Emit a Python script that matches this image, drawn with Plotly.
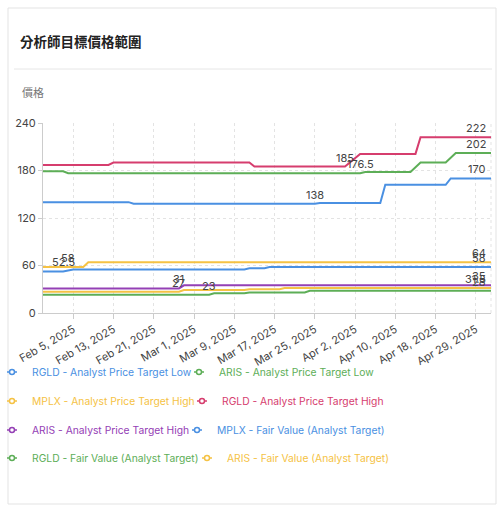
import pandas as pd
import plotly.graph_objects as go

# ---------------- data ----------------
TITLE = "分析師目標價格範圍"
Y_LABEL = "價格"

all_days = pd.date_range("2025-01-30", "2025-05-02", freq="D")
missing_days = ["2025-04-19", "2025-04-20", "2025-04-21"]
categories = [d.strftime("%Y-%m-%d") for d in all_days if d.strftime("%Y-%m-%d") not in missing_days]

tick_dates = ["2025-02-05", "2025-02-13", "2025-02-21", "2025-03-01", "2025-03-09", "2025-03-17",
              "2025-03-25", "2025-04-02", "2025-04-10", "2025-04-18", "2025-04-29"]
tick_labels = ["Feb 5, 2025", "Feb 13, 2025", "Feb 21, 2025", "Mar 1, 2025", "Mar 9, 2025", "Mar 17, 2025",
               "Mar 25, 2025", "Apr 2, 2025", "Apr 10, 2025", "Apr 18, 2025", "Apr 29, 2025"]
y_ticks = [0, 60, 120, 180, 240]

series_names = [
    "RGLD - Analyst Price Target Low",
    "ARIS - Analyst Price Target Low",
    "MPLX - Analyst Price Target High",
    "RGLD - Analyst Price Target High",
    "ARIS - Analyst Price Target High",
    "MPLX - Fair Value (Analyst Target)",
    "RGLD - Fair Value (Analyst Target)",
    "ARIS - Fair Value (Analyst Target)",
]
series_colors = ["#4A90E2", "#5DAE57", "#F5C244", "#D63D6E", "#9440B5", "#4A90E2", "#5DAE57", "#F5C244"]

# step series given at their change points (date, value)
rgld_low_dates = ["2025-01-30", "2025-02-16", "2025-02-17", "2025-03-25", "2025-03-26", "2025-04-07",
                  "2025-04-08", "2025-04-23", "2025-04-24", "2025-05-02"]
rgld_low_values = [140, 140, 138, 138, 139, 139, 162, 162, 170, 170]

aris_low_dates = ["2025-01-30", "2025-03-04", "2025-03-05", "2025-03-11", "2025-03-12", "2025-03-23",
                  "2025-03-24", "2025-05-02"]
aris_low_values = [23, 23, 25, 25, 26, 26, 28, 28]

mplx_high_dates = ["2025-01-30", "2025-02-07", "2025-02-08", "2025-05-02"]
mplx_high_values = [58, 58, 64, 64]

rgld_high_dates = ["2025-01-30", "2025-02-12", "2025-02-13", "2025-03-12", "2025-03-13", "2025-03-31",
                   "2025-04-03", "2025-04-14", "2025-04-15", "2025-05-02"]
rgld_high_values = [187, 187, 190, 190, 185, 185, 201, 201, 222, 222]

aris_high_dates = ["2025-01-30", "2025-02-26", "2025-02-27", "2025-05-02"]
aris_high_values = [31, 31, 35, 35]

mplx_fv_dates = ["2025-01-30", "2025-02-03", "2025-02-05", "2025-03-11", "2025-03-12", "2025-03-15",
                 "2025-03-16", "2025-05-02"]
mplx_fv_values = [52.5, 52.5, 55, 55, 56.5, 56.5, 58, 58]

rgld_fv_dates = ["2025-01-30", "2025-02-03", "2025-02-04", "2025-04-03", "2025-04-04", "2025-04-13",
                 "2025-04-15", "2025-04-23", "2025-04-25", "2025-05-02"]
rgld_fv_values = [179, 179, 176.5, 176.5, 178, 178, 190, 190, 202, 202]

aris_fv_dates = ["2025-01-30", "2025-02-26", "2025-02-27", "2025-03-11", "2025-03-12", "2025-03-18",
                 "2025-03-19", "2025-05-02"]
aris_fv_values = [27, 27, 29, 29, 30, 30, 31.5, 31.5]

series_dates = [rgld_low_dates, aris_low_dates, mplx_high_dates, rgld_high_dates,
                aris_high_dates, mplx_fv_dates, rgld_fv_dates, aris_fv_dates]
series_values = [rgld_low_values, aris_low_values, mplx_high_values, rgld_high_values,
                 aris_high_values, mplx_fv_values, rgld_fv_values, aris_fv_values]

# point labels: (series index, date, value)
label_series = [5, 2, 4, 7, 1, 0, 3, 6, 3, 6, 0, 2, 5, 4, 7, 1]
label_dates = ["2025-02-03", "2025-02-04", "2025-02-26", "2025-02-26", "2025-03-04", "2025-03-25",
               "2025-03-31", "2025-04-03", "2025-05-02", "2025-05-02", "2025-05-02", "2025-05-02",
               "2025-05-02", "2025-05-02", "2025-05-02", "2025-05-02"]
label_values = [52.5, 58, 31, 27, 23, 138, 185, 176.5, 222, 202, 170, 64, 58, 35, 31.5, 28]

# ---------------- layout helpers ----------------
W, H = 504, 512
L, R, T, B = 43, 491, 123, 313


def px_x(px):
    return (px - L) / (R - L)


def px_y(py):
    return (B - py) / (B - T)


FONT = "Inter, Noto Sans, sans-serif"
CJK = "Noto Sans CJK TC, Noto Sans CJK SC, sans-serif"

fig = go.Figure()

# establish the category order on the x axis
fig.add_trace(go.Scatter(x=categories, y=[None] * len(categories), mode="lines",
                         showlegend=False, hoverinfo="skip"))

legend_ids = ["legend", "legend2", "legend3", "legend4", "legend5", "legend6", "legend7", "legend8"]

for i, name in enumerate(series_names):
    c = series_colors[i]
    fig.add_trace(go.Scatter(
        x=series_dates[i], y=series_values[i], mode="lines",
        line=dict(color=c, width=2), name=name, legendgroup=name, showlegend=False,
    ))
    # legend-only entry: short line with a small hollow circle
    fig.add_trace(go.Scatter(
        x=[None], y=[None], mode="lines+markers",
        line=dict(color=c, width=1.5, dash="0px,10px,10px,30px"),
        marker=dict(symbol="circle", size=5, color="white", line=dict(color=c, width=1.5)),
        name=f"<span style='color:{c}'>{name}</span>", legendgroup=name,
        legend=legend_ids[i], showlegend=True,
    ))

# legend item placement (text start x, row centre y) in pixels
legend_text_x = [32, 219, 32, 222, 32, 217, 32, 227]
legend_row_y = [372, 372, 401, 401, 430, 430, 458, 458]
legend_layout = {}
for i, lid in enumerate(legend_ids):
    legend_layout[lid] = dict(
        x=px_x(legend_text_x[i] - 40), y=1 - legend_row_y[i] / H,
        xref="paper", yref="container", xanchor="left", yanchor="middle",
        bgcolor="rgba(0,0,0,0)", borderwidth=0, font=dict(family=FONT, size=10.3, color="#444"),
        itemclick=False, itemdoubleclick=False,
    )

annotations = []
for s, d, v in zip(label_series, label_dates, label_values):
    end = d == categories[-1]
    annotations.append(dict(
        x=d, y=v, xref="x", yref="y", text=f"{v:g}", showarrow=False,
        xanchor="right" if end else "center", yanchor="bottom", xshift=-3 if end else 0, yshift=0,
        font=dict(family=FONT, size=11, color="#444"),
    ))

annotations.append(dict(
    x=px_x(20), y=px_y(92), xref="paper", yref="paper", text=Y_LABEL, showarrow=False,
    xanchor="left", yanchor="middle", font=dict(family=CJK, size=11, color="#777"),
))

shapes = [
    # card border
    dict(type="rect", xref="paper", yref="paper", x0=px_x(8), x1=px_x(496), y0=px_y(8), y1=px_y(504),
         line=dict(color="#e3e3e3", width=1), fillcolor="rgba(0,0,0,0)", layer="below"),
    # header divider
    dict(type="line", xref="paper", yref="paper", x0=px_x(14), x1=px_x(492), y0=px_y(69), y1=px_y(69),
         line=dict(color="#e6e6e6", width=1)),
    # right edge dotted split line
    dict(type="line", xref="paper", yref="paper", x0=1, x1=1, y0=0, y1=1,
         line=dict(color="#e3e3e3", width=1, dash="dot"), layer="below"),
]

fig.update_layout(
    width=W, height=H, autosize=False,
    margin=dict(l=L, r=W - R, t=T, b=H - B, pad=0, autoexpand=False),
    paper_bgcolor="white", plot_bgcolor="white",
    title=dict(text=f"<b>{TITLE}</b>", x=20 / W, y=1 - 42 / H, xref="container", yref="container",
               xanchor="left", yanchor="middle", font=dict(family=CJK, size=13.5, color="#222")),
    xaxis=dict(
        type="category", categoryorder="array", categoryarray=categories,
        range=[0, len(categories) - 1], tickmode="array", tickvals=tick_dates, ticktext=tick_labels,
        tickangle=-30, showgrid=True, gridcolor="#e3e3e3", griddash="dot", gridwidth=1,
        showline=True, linecolor="#cccccc", linewidth=1, ticks="outside", ticklen=5, tickcolor="#cccccc",
        tickfont=dict(family=FONT, size=11, color="#444"), zeroline=False, fixedrange=True,
        automargin=False,
    ),
    yaxis=dict(
        range=[0, 240], tickmode="array", tickvals=y_ticks, showgrid=True, gridcolor="#e3e3e3",
        griddash="dot", showline=True, linecolor="#cccccc", linewidth=1, ticks="outside", ticklen=4,
        tickcolor="#cccccc", tickfont=dict(family=FONT, size=11, color="#444"), zeroline=False,
        fixedrange=True, automargin=False,
    ),
    annotations=annotations, shapes=shapes, hovermode=False,
    **legend_layout,
)

fig.write_html("out.html", config={"displayModeBar": False},
               post_script="document.body.style.margin='0px';document.body.style.overflow='hidden';")
